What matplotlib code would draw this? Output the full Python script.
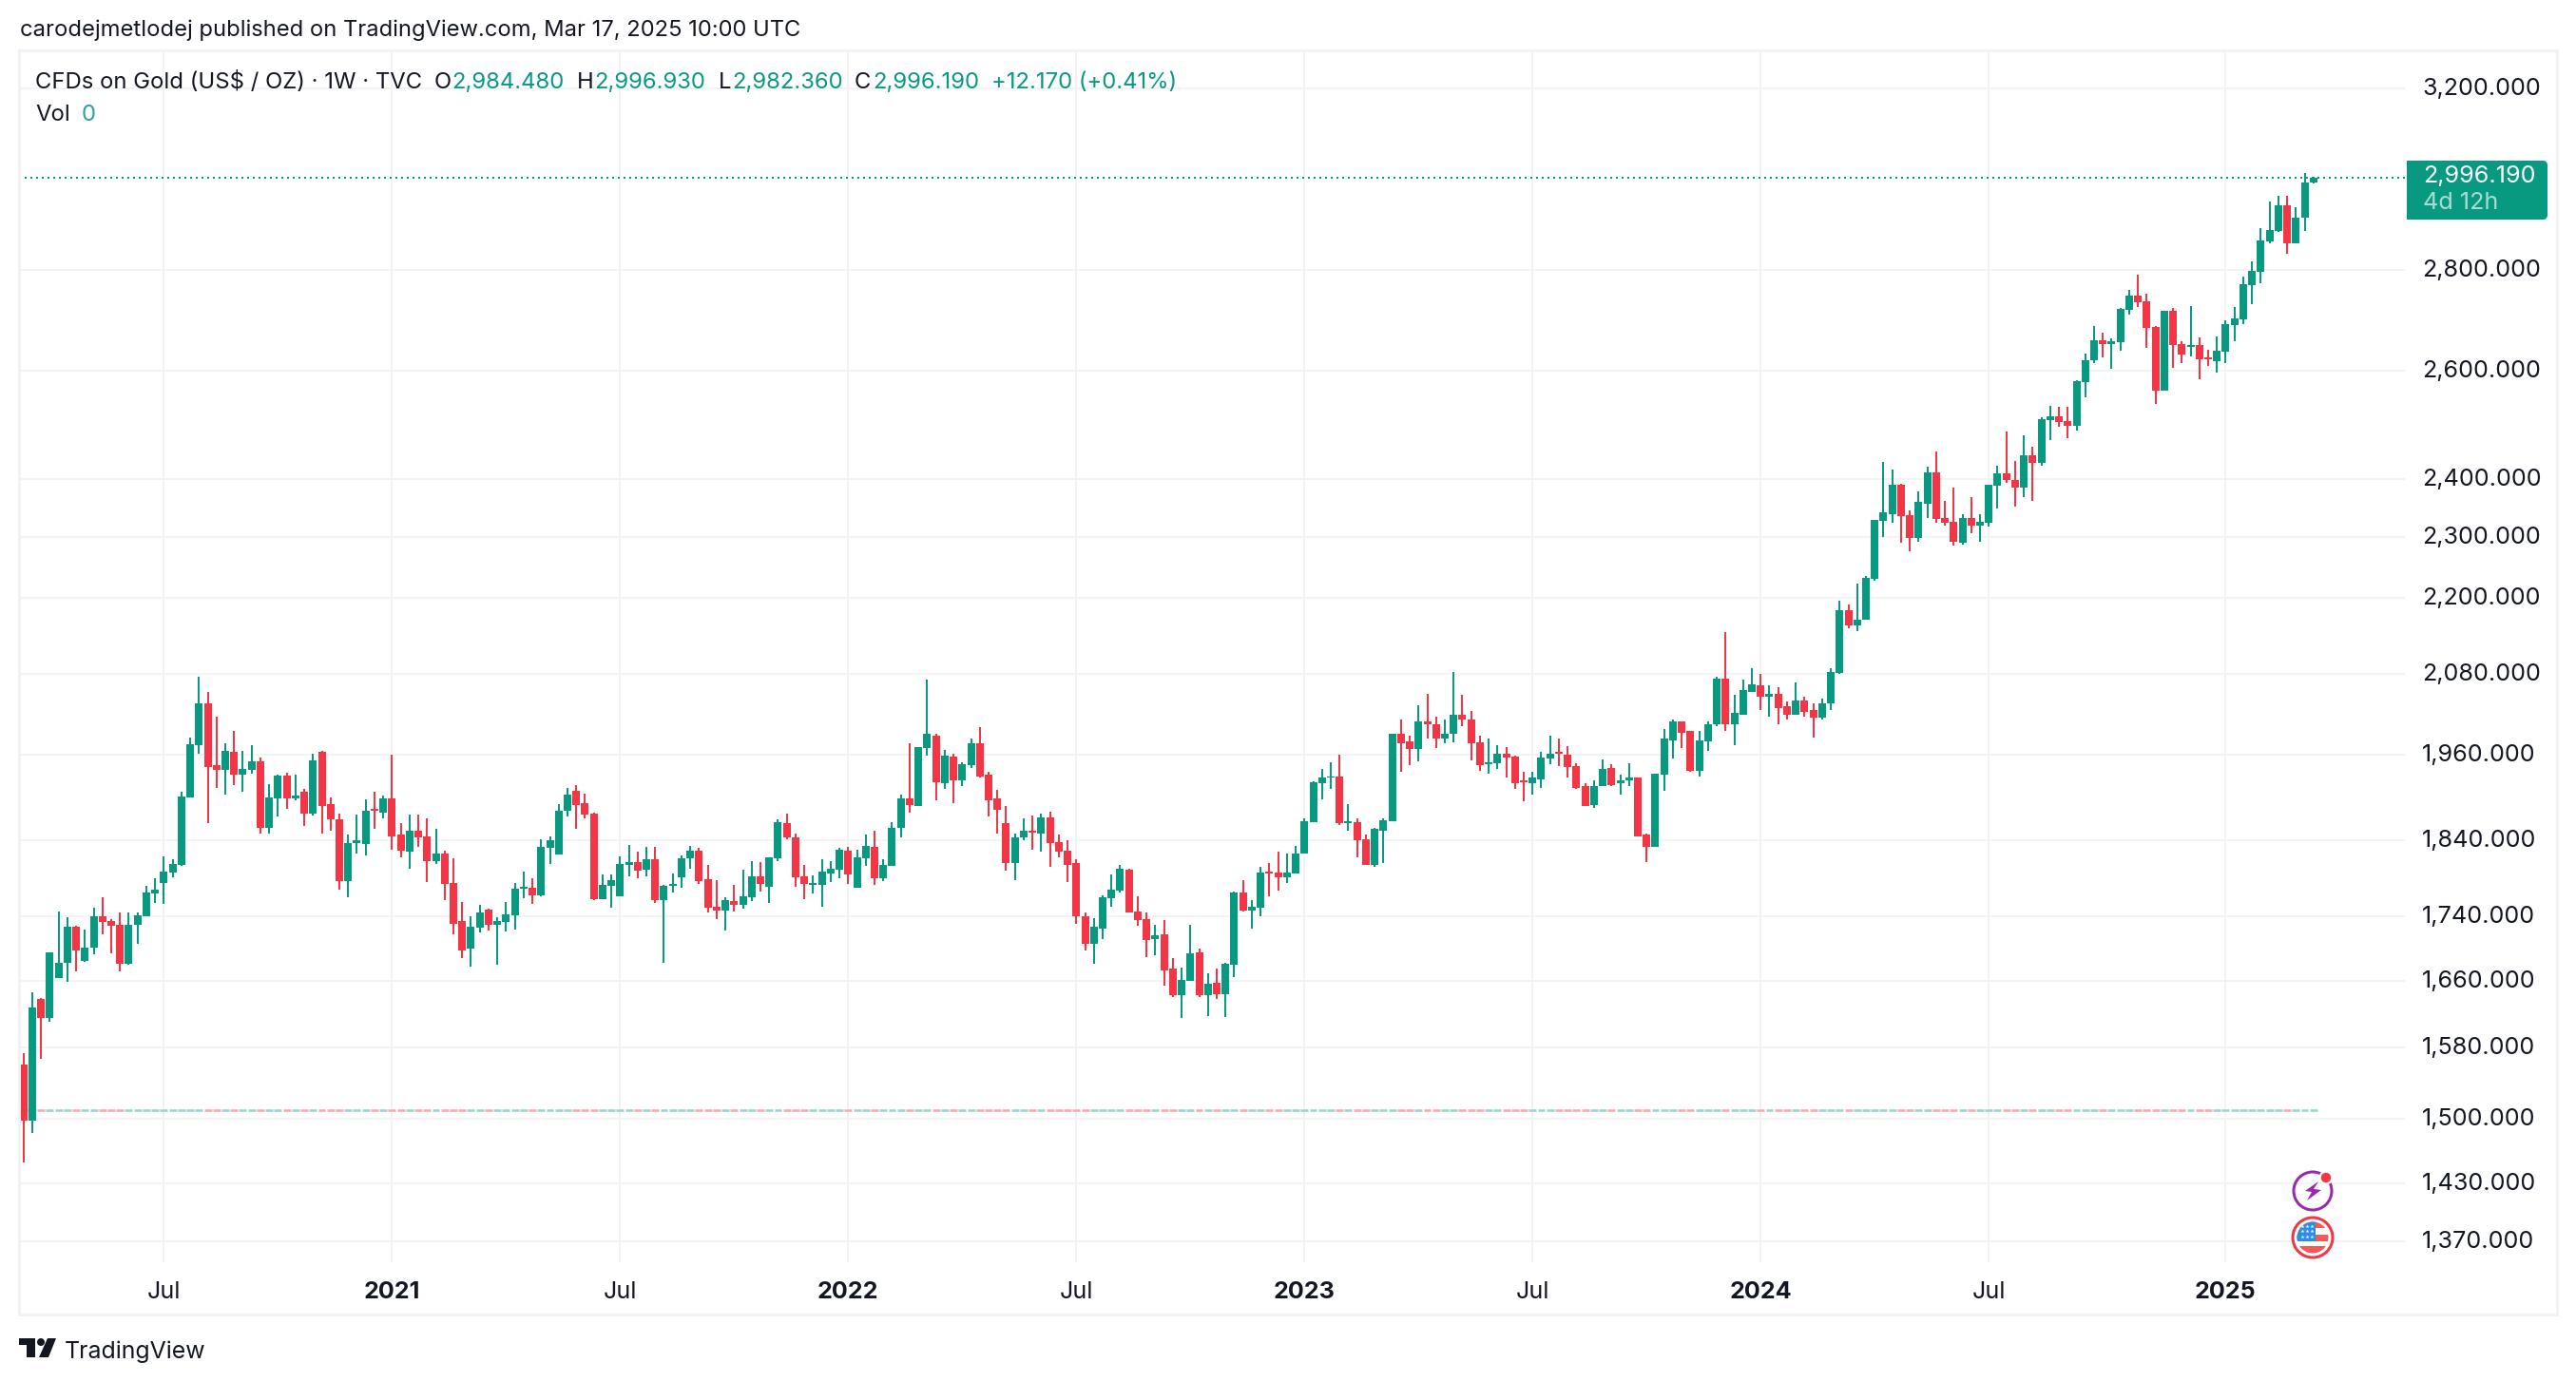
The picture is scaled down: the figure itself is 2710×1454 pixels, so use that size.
import pandas as pd
import matplotlib
matplotlib.use("Agg")
import matplotlib.pyplot as plt
from matplotlib.patches import Circle, FancyBboxPatch, Polygon, Rectangle
from matplotlib.ticker import NullLocator
from matplotlib.transforms import ScaledTranslation

# weekly candles, first one is the week of Mar 16 2020
first_week = "2020-03-16"

opens = [
    1561, 1498, 1638, 1615, 1663, 1682, 1727, 1684, 1701, 1741,
    1734, 1730, 1681, 1730, 1740, 1770, 1784, 1797, 1807, 1899,
    1974, 2036, 1945, 1938, 1964, 1931, 1938, 1950, 1858, 1898,
    1930, 1898, 1907, 1877, 1964, 1890, 1869, 1786, 1837, 1836,
    1884, 1878, 1898, 1848, 1825, 1854, 1846, 1812, 1823, 1784,
    1734, 1700, 1726, 1749, 1730, 1733, 1742, 1776, 1777, 1767,
    1830, 1821, 1881, 1909, 1892, 1877, 1762, 1780, 1766, 1807,
    1811, 1801, 1815, 1761, 1780, 1791, 1816, 1827, 1788, 1753,
    1748, 1760, 1755, 1765, 1792, 1778, 1816, 1864, 1845, 1792,
    1781, 1781, 1796, 1801, 1827, 1777, 1816, 1832, 1790, 1806,
    1857, 1898, 1888, 1970, 1988, 1920, 1957, 1924, 1945, 1976,
    1931, 1898, 1864, 1810, 1844, 1854, 1849, 1872, 1838, 1826,
    1810, 1741, 1705, 1725, 1764, 1773, 1801, 1746, 1737, 1711,
    1717, 1675, 1642, 1660, 1695, 1642, 1657, 1644, 1680, 1771,
    1748, 1752, 1798, 1797, 1791, 1796, 1822, 1865, 1920, 1927,
    1929, 1864, 1865, 1842, 1808, 1854, 1866, 1990, 1980, 1968,
    2008, 2005, 1983, 1991, 2018, 2012, 1978, 1947, 1948, 1961,
    1957, 1924, 1919, 1925, 1955, 1964, 1960, 1944, 1915, 1889,
    1915, 1941, 1919, 1924, 1927, 1848, 1831, 1932, 1981, 2008,
    1994, 1937, 1980, 2005, 2073, 2005, 2019, 2053, 2063, 2045,
    2050, 2031, 2018, 2040, 2026, 2014, 2035, 2081, 2179, 2155,
    2164, 2231, 2327, 2340, 2391, 2337, 2299, 2357, 2413, 2332,
    2326, 2290, 2332, 2319, 2324, 2388, 2410, 2399, 2385, 2442,
    2429, 2507, 2514, 2505, 2496, 2578, 2619, 2658, 2651, 2654,
    2718, 2747, 2735, 2684, 2562, 2716, 2651, 2646, 2649, 2625,
    2618, 2636, 2688, 2699, 2768, 2795, 2859, 2881, 2935, 2855, 2909, 2984.48,
]
highs = [
    1574, 1646, 1639, 1695, 1747, 1739, 1728, 1723, 1751, 1765,
    1737, 1745, 1745, 1745, 1780, 1790, 1819, 1815, 1907, 1985,
    2075, 2052, 2016, 1976, 1994, 1966, 1974, 1956, 1918, 1931,
    1934, 1931, 1911, 1961, 1965, 1899, 1877, 1848, 1875, 1897,
    1907, 1902, 1960, 1864, 1875, 1875, 1871, 1856, 1827, 1816,
    1759, 1740, 1755, 1750, 1739, 1759, 1784, 1798, 1790, 1842,
    1846, 1890, 1913, 1917, 1905, 1878, 1795, 1795, 1819, 1834,
    1825, 1832, 1831, 1781, 1796, 1820, 1833, 1830, 1808, 1787,
    1765, 1781, 1801, 1813, 1811, 1818, 1869, 1877, 1849, 1808,
    1793, 1815, 1812, 1830, 1831, 1828, 1848, 1854, 1815, 1865,
    1904, 1976, 1971, 2072, 1991, 1967, 1961, 1949, 1983, 2000,
    1936, 1910, 1887, 1849, 1870, 1874, 1877, 1880, 1848, 1841,
    1815, 1745, 1738, 1768, 1795, 1808, 1802, 1766, 1745, 1729,
    1735, 1688, 1676, 1729, 1700, 1669, 1675, 1682, 1772, 1787,
    1761, 1805, 1810, 1825, 1823, 1833, 1870, 1922, 1939, 1949,
    1960, 1890, 1870, 1848, 1857, 1870, 1991, 2011, 1988, 2033,
    2050, 2016, 2011, 2083, 2049, 2024, 1987, 1984, 1974, 1971,
    1959, 1935, 1936, 1964, 1988, 1983, 1973, 1948, 1919, 1924,
    1953, 1947, 1932, 1948, 1928, 1850, 1933, 1998, 2011, 2009,
    1994, 1995, 2009, 2076, 2145, 2049, 2072, 2089, 2080, 2063,
    2060, 2039, 2067, 2046, 2035, 2043, 2089, 2195, 2189, 2223,
    2235, 2330, 2431, 2417, 2392, 2345, 2378, 2422, 2450, 2363,
    2386, 2340, 2368, 2339, 2391, 2424, 2486, 2433, 2479, 2459,
    2512, 2533, 2531, 2531, 2582, 2632, 2686, 2673, 2662, 2722,
    2758, 2790, 2751, 2686, 2717, 2722, 2656, 2726, 2664, 2640,
    2666, 2697, 2724, 2786, 2817, 2887, 2944, 2956, 2956, 2932, 3006, 2996.93,
]
lows = [
    1452, 1484, 1567, 1610, 1663, 1659, 1671, 1683, 1693, 1718,
    1694, 1671, 1679, 1705, 1740, 1757, 1756, 1791, 1806, 1899,
    1961, 1864, 1913, 1903, 1917, 1907, 1933, 1849, 1849, 1873,
    1884, 1896, 1860, 1874, 1850, 1853, 1775, 1765, 1822, 1820,
    1856, 1870, 1828, 1817, 1802, 1831, 1785, 1809, 1761, 1717,
    1688, 1677, 1720, 1722, 1679, 1721, 1723, 1764, 1756, 1766,
    1809, 1821, 1873, 1856, 1870, 1761, 1762, 1751, 1766, 1792,
    1790, 1792, 1758, 1682, 1771, 1777, 1802, 1782, 1745, 1737,
    1722, 1746, 1750, 1760, 1772, 1758, 1812, 1842, 1778, 1762,
    1770, 1753, 1785, 1790, 1782, 1777, 1806, 1781, 1786, 1806,
    1844, 1878, 1888, 1959, 1895, 1912, 1892, 1916, 1941, 1928,
    1873, 1850, 1800, 1787, 1840, 1828, 1825, 1805, 1817, 1785,
    1731, 1697, 1681, 1711, 1753, 1771, 1745, 1728, 1689, 1691,
    1654, 1640, 1615, 1660, 1640, 1617, 1638, 1616, 1664, 1747,
    1725, 1740, 1766, 1773, 1784, 1796, 1822, 1865, 1897, 1912,
    1861, 1853, 1818, 1808, 1805, 1810, 1866, 1936, 1945, 1951,
    1983, 1970, 1976, 1978, 2002, 1952, 1937, 1933, 1939, 1927,
    1912, 1894, 1904, 1913, 1947, 1944, 1927, 1912, 1887, 1885,
    1915, 1916, 1903, 1915, 1846, 1811, 1831, 1909, 1955, 1970,
    1935, 1929, 1966, 2002, 1995, 1974, 2018, 2053, 2026, 2015,
    2004, 2011, 2018, 2016, 1985, 2012, 2026, 2080, 2151, 2146,
    2164, 2228, 2301, 2324, 2290, 2276, 2292, 2332, 2324, 2319,
    2286, 2287, 2306, 2293, 2318, 2349, 2393, 2352, 2368, 2363,
    2424, 2471, 2494, 2473, 2487, 2549, 2614, 2625, 2603, 2638,
    2709, 2724, 2643, 2537, 2562, 2605, 2614, 2627, 2583, 2608,
    2596, 2614, 2656, 2690, 2730, 2772, 2855, 2879, 2833, 2855, 2881, 2982.36,
]
closes = [
    1498, 1627, 1615, 1695, 1682, 1727, 1697, 1701, 1741, 1733,
    1728, 1681, 1729, 1742, 1771, 1775, 1798, 1809, 1901, 1975,
    2036, 1942, 1938, 1965, 1931, 1939, 1950, 1858, 1899, 1930,
    1898, 1902, 1877, 1952, 1888, 1869, 1786, 1837, 1840, 1881,
    1881, 1898, 1846, 1826, 1854, 1845, 1812, 1823, 1782, 1731,
    1697, 1727, 1745, 1729, 1734, 1743, 1776, 1778, 1767, 1831,
    1841, 1881, 1903, 1889, 1875, 1762, 1781, 1787, 1809, 1811,
    1800, 1815, 1761, 1780, 1782, 1816, 1826, 1786, 1752, 1748,
    1761, 1755, 1766, 1792, 1782, 1817, 1865, 1844, 1791, 1782,
    1783, 1798, 1802, 1828, 1795, 1817, 1833, 1790, 1807, 1858,
    1898, 1889, 1971, 1990, 1921, 1959, 1924, 1947, 1976, 1929,
    1896, 1882, 1810, 1845, 1853, 1851, 1872, 1837, 1825, 1808,
    1740, 1705, 1727, 1765, 1775, 1802, 1745, 1735, 1710, 1716,
    1673, 1642, 1661, 1694, 1642, 1656, 1644, 1681, 1771, 1748,
    1753, 1797, 1796, 1791, 1797, 1822, 1866, 1921, 1927, 1929,
    1864, 1866, 1840, 1808, 1856, 1868, 1990, 1977, 1968, 2008,
    2004, 1983, 1991, 2018, 2011, 1977, 1945, 1949, 1961, 1956,
    1920, 1921, 1927, 1956, 1961, 1961, 1943, 1913, 1888, 1916,
    1940, 1917, 1924, 1927, 1846, 1831, 1933, 1983, 2008, 1992,
    1937, 1981, 2004, 2073, 2004, 2021, 2055, 2064, 2045, 2050,
    2029, 2018, 2040, 2023, 2014, 2036, 2083, 2179, 2155, 2165,
    2232, 2329, 2342, 2391, 2336, 2299, 2360, 2413, 2331, 2324,
    2292, 2332, 2319, 2326, 2390, 2410, 2398, 2385, 2442, 2429,
    2508, 2514, 2503, 2496, 2579, 2620, 2658, 2651, 2656, 2720,
    2747, 2734, 2682, 2562, 2716, 2649, 2630, 2649, 2621, 2622,
    2638, 2690, 2701, 2770, 2797, 2861, 2883, 2935, 2855, 2909, 2985, 2996.19,
]

price_ticks = [3200, 2800, 2600, 2400, 2300, 2200, 2080, 1960, 1840, 1740,
               1660, 1580, 1500, 1430, 1370]
last_price = 2996.19
zero_volume_level = 1509

GREEN = "#089981"
RED = "#F23645"
GRID = "#F3F3F3"
INK = "#131722"

plt.rcParams["font.family"] = ["Inter", "DejaVu Sans"]

W, H = 2710, 1454
PX = 72 / 100  # one pixel in points at dpi 100

fig = plt.figure(figsize=(W / 100, H / 100), dpi=100, facecolor="white")

# price pane, pixel box 20..2530 x 53..1328
ax = fig.add_axes([20 / W, 1 - 1328 / H, 2510 / W, 1275 / H])
ax.set_yscale("log")
ax.set_xlim(-0.51, 271.43)
ax.set_ylim(1349.5, 3290)

dates = pd.date_range(first_week, periods=len(closes), freq="7D")
xs = list(range(len(closes)))
up = [c >= o for o, c in zip(opens, closes)]
colors = [GREEN if u else RED for u in up]

# the first week of every half year gets a tick
tick_idx = []
tick_labels = []
for i, d in enumerate(dates):
    if i == 0 or d.month == dates[i - 1].month:
        continue
    if d.month == 7:
        tick_idx.append(i)
        tick_labels.append("Jul")
    elif d.month == 1:
        tick_idx.append(i)
        tick_labels.append(str(d.year))

ax.set_xticks(tick_idx, tick_labels)
ax.set_yticks(price_ticks, [f"{p:,.3f}" for p in price_ticks])
ax.yaxis.set_minor_locator(NullLocator())
ax.yaxis.tick_right()
ax.tick_params(axis="y", length=0, pad=18 * PX, labelsize=18.1, labelcolor=INK)
ax.tick_params(axis="x", length=0, pad=20 * PX, labelsize=18.1, labelcolor=INK)
for lab in ax.get_xticklabels():
    if lab.get_text() != "Jul":
        lab.set_fontweight("bold")
# price labels sit a little above their grid lines
lift = ScaledTranslation(0, 2 / 100, fig.dpi_scale_trans)
for lab in ax.get_yticklabels():
    lab.set_transform(lab.get_transform() + lift)
ax.grid(True, color=GRID, lw=2 * PX)
ax.set_axisbelow(True)
for s in ax.spines.values():
    s.set_visible(False)

# zero volume bars, they collapse to one row of short dashes
vol_colors = ["#9AD6CC" if u else "#F9A9AE" for u in up]
ax.hlines([zero_volume_level] * len(xs), [x - 0.43 for x in xs], [x + 0.43 for x in xs],
          colors=vol_colors, lw=2.6 * PX, zorder=2)

# last price line
ax.axhline(last_price, color=GREEN, lw=2 * PX, linestyle=(0, (1, 2)), zorder=2)

# candles
ax.vlines(xs, lows, highs, colors=colors, lw=2 * PX, zorder=3, capstyle="butt")
ax.bar(xs, [abs(c - o) for o, c in zip(opens, closes)],
       bottom=[min(o, c) for o, c in zip(opens, closes)],
       width=0.867, color=colors, lw=0, zorder=4)

# everything else sits on an overlay in pixel coordinates
ov = fig.add_axes([0, 0, 1, 1], facecolor="none")
ov.set_xlim(0, W)
ov.set_ylim(H, 0)
ov.axis("off")

ov.add_patch(Rectangle((20, 53), 2670, 1330, fill=False, ec="#F2F2F2", lw=3 * PX))

ov.text(21, 32, "carodejmetlodej published on TradingView.com, Mar 17, 2025 10:00 UTC",
        fontsize=17.1, color=INK, va="center")

# legend row
LEG = 17.2
ov.text(37, 87, "CFDs on Gold (US$ / OZ) · 1W · TVC", fontsize=LEG, color=INK, va="center")
for x, s, col in [(457, "O", INK), (475, "2,984.480", GREEN),
                  (607, "H", INK), (625, "2,996.930", GREEN),
                  (756, "L", INK), (770, "2,982.360", GREEN),
                  (899, "C", INK), (918, "2,996.190", GREEN),
                  (1043, "+12.170 (+0.41%)", GREEN)]:
    ov.text(x, 87, s, fontsize=LEG, color=col, va="center")
ov.text(37, 121, "Vol", fontsize=LEG, color=INK, va="center")
ov.text(86, 121, "0", fontsize=LEG, color="#26A69A", va="center")

# last price tag
ov.add_patch(FancyBboxPatch((2534, 171), 144, 58, boxstyle="round,pad=2,rounding_size=5",
                            fc=GREEN, ec="none"))
ov.add_patch(Rectangle((2532, 169), 20, 62, fc=GREEN, ec="none"))
ov.text(2549, 186, f"{last_price:,.3f}", fontsize=18.1, color="white", va="center")
ov.text(2549, 214, "4d 12h", fontsize=18.1, color="white", alpha=0.65, va="center")

# event badges
ov.add_patch(Circle((2433, 1253), 20, fill=False, ec="#9C27B0", lw=3 * PX))
ov.add_patch(Polygon([(2439, 1243), (2425, 1253), (2432, 1254), (2427, 1263),
                      (2442, 1252), (2434, 1251)], fc="#9C27B0", ec="none"))
ov.add_patch(Circle((2447, 1239), 7.5, fc="white", ec="none"))
ov.add_patch(Circle((2447, 1239), 5.2, fc=RED, ec="none"))

ov.add_patch(Circle((2433, 1302), 21, fc="white", ec=RED, lw=3 * PX))
flag_clip = Circle((2433, 1302), 16.5, transform=ov.transData)
for y0, y1 in [(1285, 1292), (1299, 1305.5), (1311, 1319)]:
    stripe = Rectangle((2416, y0), 34, y1 - y0, fc="#F25A5A", ec="none")
    ov.add_patch(stripe)
    stripe.set_clip_path(flag_clip)
canton = Rectangle((2416, 1285), 20, 20.5, fc="#2B8DE8", ec="none")
ov.add_patch(canton)
canton.set_clip_path(flag_clip)
for row, y in enumerate([1290, 1295, 1301]):
    ov.scatter([2422 + c * 5 for c in range(3)], [y] * 3, s=9, marker="*", c="white", lw=0)

# TradingView logo
ov.add_patch(Polygon([(20, 1408), (37, 1408), (37, 1428), (28, 1428), (28, 1415), (20, 1415)],
                     fc=INK, ec="none"))
ov.add_patch(Circle((43, 1412), 4, fc=INK, ec="none"))
ov.add_patch(Polygon([(50, 1408), (59, 1408), (51, 1428), (41, 1428)], fc=INK, ec="none"))
ov.text(68, 1422, "TradingView", fontsize=17.9, color=INK, va="center")

fig.savefig("out.png", dpi=100, facecolor="white")
